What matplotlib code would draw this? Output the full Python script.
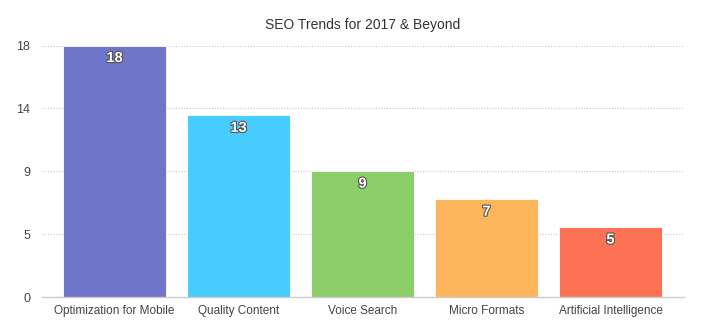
import matplotlib
matplotlib.use("Agg")
import matplotlib.pyplot as plt
import matplotlib.patheffects as pe
import numpy as np

# Chart data
categories = ["Optimization for Mobile", "Quality Content", "Voice Search",
              "Micro Formats", "Artificial Intelligence"]
values = [18, 13, 9, 7, 5]
colors = ["#6f76c9", "#48ccfe", "#8ccf6a", "#fdb55c", "#fd7255"]
y_ticks = [0, 4.5, 9, 13.5, 18]

plt.rcParams["font.family"] = ["Liberation Sans", "DejaVu Sans"]

fig = plt.figure(figsize=(7.04, 3.33), dpi=100)
ax = fig.add_axes([42 / 704, 1 - 297 / 333, (684 - 42) / 704, (297 - 45.5) / 333])

x = np.arange(len(categories))
bars = ax.bar(x, values, width=0.83, color=colors, edgecolor="white",
              linewidth=0.6, zorder=2)

# value labels inside the top of each bar
for xi, v in zip(x, values):
    ax.annotate(str(v), (xi, v), xytext=(0, -9), textcoords="offset points",
                ha="center", va="center", color="white", fontsize=10.5,
                fontweight="bold", zorder=3,
                path_effects=[pe.withStroke(linewidth=1.6, foreground="#555555")])

ax.set_xlim(-0.585, 4.593)
ax.set_ylim(0, 18)
ax.set_yticks(y_ticks)
ax.set_yticklabels([str(int(np.floor(t + 0.5))) for t in y_ticks])
ax.set_xticks(x)
ax.set_xticklabels(categories)

ax.grid(axis="y", linestyle=(0, (1, 1.5)), color="#c8c8c8", linewidth=0.8, zorder=0)
for side in ["top", "right", "left"]:
    ax.spines[side].set_visible(False)
ax.spines["bottom"].set_color("#cccccc")
ax.spines["bottom"].set_linewidth(1)
ax.tick_params(axis="both", length=0, colors="#444444")
ax.tick_params(axis="x", pad=6, labelsize=8.5)
ax.tick_params(axis="y", pad=8.6, labelsize=9)

ax.set_title("SEO Trends for 2017 & Beyond", fontsize=10, color="#333333", pad=12)

fig.savefig("out.png", dpi=100)
